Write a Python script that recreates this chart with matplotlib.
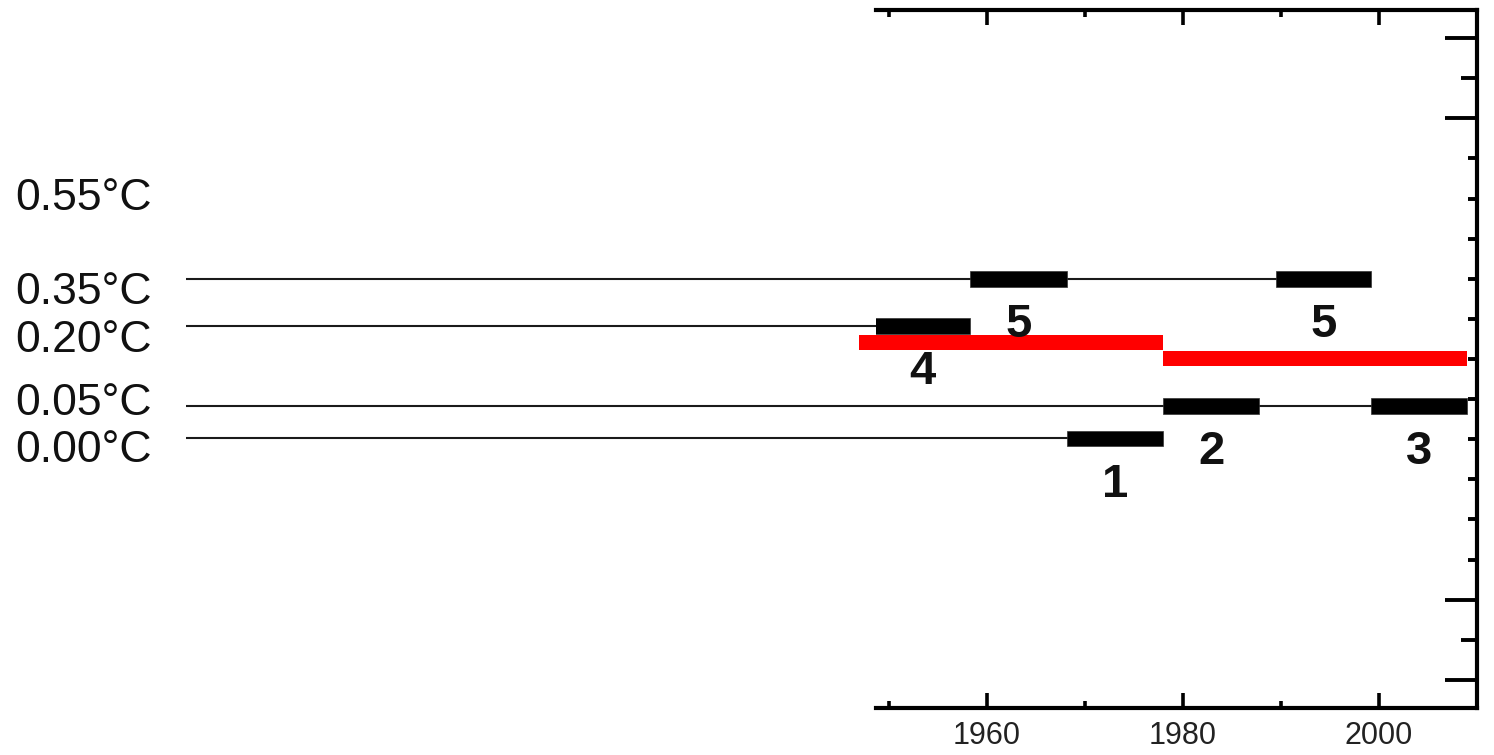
import numpy as np
import matplotlib.pyplot as plt
from matplotlib.transforms import blended_transform_factory

plt.rcParams['font.family'] = ['Liberation Sans', 'DejaVu Sans']

# ------------------------------------------------------------
# data (y = position on the right-hand tick scale, x = year)
# ------------------------------------------------------------
level_pos = [10.0, 8.82, 6.83, 6.02]          # 0.35, 0.20, 0.05, 0.00 lines

left_labels = ['0.55°C', '0.35°C', '0.20°C', '0.05°C', '0.00°C']
left_label_pos = [11.71, 9.37, 8.18, 6.60, 5.43]

bar_names = ['4', '5', '1', '2', '5', '3']
bar_start = [1948.6, 1958.3, 1968.2, 1978.0, 1989.5, 1999.2]
bar_end = [1958.3, 1968.2, 1978.0, 1987.8, 1999.2, 2009.0]
bar_pos = [8.82, 10.0, 6.02, 6.83, 10.0, 6.83]

red_start = [1947.0, 1978.0]
red_end = [1978.0, 2009.0]
red_pos = [8.41, 8.02]

line_start = 1878.3

x_major = [1960, 1980, 2000]
x_minor = [1950, 1970, 1990]
y_long = [0, 2, 14, 16]
y_mid = [1, 15]
y_short = list(range(3, 14))

# ------------------------------------------------------------
# figure
# ------------------------------------------------------------
fig = plt.figure(figsize=(14.94, 7.55), dpi=100)
ax = fig.add_axes([876 / 1494, 47 / 755, 601 / 1494, 698 / 755])
ax.set_xlim(1948.7, 2010.0)
ax.set_ylim(-0.7, 16.7)

# twin axis only for the medium-length ticks (made first, twinx resets tick side)
ax2 = ax.twinx()
ax2.set_ylim(ax.get_ylim())
ax2.set_yticks(y_mid)
ax2.tick_params(axis='y', direction='in', length=11.3, width=2.8,
                labelright=False)
for side in ax2.spines:
    ax2.spines[side].set_visible(False)

# thin reference lines, running off to the left of the axes
bar_pos_arr = np.array(bar_pos)
bar_end_arr = np.array(bar_end)
line_end = [bar_end_arr[np.isclose(bar_pos_arr, p)].max() for p in level_pos]
ax.hlines(level_pos, line_start, line_end, colors='#1a1a1a', linewidth=1.5,
          clip_on=False, zorder=1)

# black period bars
widths = np.array(bar_end) - np.array(bar_start)
ax.barh(bar_pos, widths, left=bar_start, height=0.39, color='black',
        edgecolor='#333333', linewidth=0.5, zorder=2)

# red segments
rb = ax.barh(red_pos, np.array(red_end) - np.array(red_start), left=red_start,
             height=0.38, color='#ff0000', linewidth=0, zorder=3)
for p in rb.patches:
    p.set_clip_on(False)

# period numbers
for name, s, e, p in zip(bar_names, bar_start, bar_end, bar_pos):
    ax.text((s + e) / 2, p - 1.45, name, ha='center', va='baseline',
            fontsize=34, fontweight='bold', color='#111111', zorder=5)

# left labels
trans = blended_transform_factory(fig.transFigure, ax.transData)
for lab, p in zip(left_labels, left_label_pos):
    ax.text(15 / 1494, p, lab, transform=trans, ha='left', va='baseline',
            fontsize=32, color='#111111', clip_on=False)

# spines
for side in ['top', 'bottom', 'right']:
    ax.spines[side].set_linewidth(3)
ax.spines['left'].set_visible(False)

# x ticks (bottom + top, pointing in)
ax.set_xticks(x_major)
ax.set_xticks(x_minor, minor=True)
ax.tick_params(axis='x', which='major', direction='in', length=10.5, width=2.6,
               top=True, bottom=True, labelsize=22, pad=9.5, labelcolor='#222222')
ax.tick_params(axis='x', which='minor', direction='in', length=5, width=2.6,
               top=True, bottom=True)

# y ticks on the right only
ax.yaxis.set_ticks_position('right')
ax.set_yticks(y_long)
ax.set_yticks(y_short, minor=True)
ax.tick_params(axis='y', which='major', direction='in', length=23, width=2.8,
               labelright=False, labelleft=False, left=False, right=True)
ax.tick_params(axis='y', which='minor', direction='in', length=6.5, width=2.8,
               left=False, right=True)

fig.savefig('out.png', dpi=100)
